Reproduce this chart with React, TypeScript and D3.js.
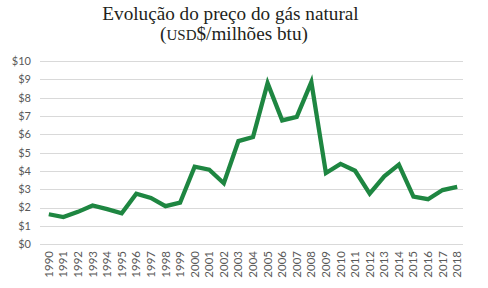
import React from "react";
import * as d3 from "d3";

const years = [
  "1990","1991","1992","1993","1994","1995","1996","1997","1998","1999",
  "2000","2001","2002","2003","2004","2005","2006","2007","2008","2009",
  "2010","2011","2012","2013","2014","2015","2016","2017","2018",
];
const prices = [
  1.64, 1.49, 1.77, 2.12, 1.92, 1.69, 2.76, 2.53, 2.08, 2.27,
  4.23, 4.07, 3.33, 5.63, 5.85, 8.79, 6.76, 6.95, 8.85, 3.89,
  4.39, 4.01, 2.76, 3.71, 4.35, 2.60, 2.46, 2.96, 3.13,
];
const yTicks = [0, 1, 2, 3, 4, 5, 6, 7, 8, 9, 10];
const titleLine1 = "Evolução do preço do gás natural";

const W = 488;
const H = 288;

export default function App() {
  const x = d3.scalePoint<string>().domain(years).range([41.5, 464.5]).padding(0.5);
  const y = d3.scaleLinear().domain([0, 10]).range([244.3, 61]);
  const line = d3
    .line<number>()
    .x((_, i) => x(years[i]) as number)
    .y((d) => y(d));

  return (
    <svg
      width={W}
      height={H}
      style={{ position: "absolute", left: 0, top: 0, display: "block", background: "#fff" }}
    >
      <text
        x={230.5}
        y={20}
        textAnchor="middle"
        fontFamily="'Liberation Serif', serif"
        fontSize={19.2}
        fill="#231f20"
      >
        {titleLine1}
      </text>
      <text
        x={234}
        y={39.5}
        textAnchor="middle"
        fontFamily="'Liberation Serif', serif"
        fontSize={19.2}
        fill="#231f20"
      >
        (<tspan fontSize={15}>USD</tspan>$/milhões btu)
      </text>
      {yTicks.map((t) => (
        <g key={t}>
          <line x1={40} x2={463} y1={Math.round(y(t)) + 0.5} y2={Math.round(y(t)) + 0.5} stroke="#d9d9d9" strokeWidth={1} />
          <text
            x={31}
            y={y(t)}
            dy="0.35em"
            textAnchor="end"
            fontFamily="Lato, sans-serif"
            fontSize={11}
            fill="#595959"
          >
            {"$" + t}
          </text>
        </g>
      ))}
      {years.map((yr) => (
        <text
          key={yr}
          transform={`translate(${x(yr)},${251}) rotate(-90)`}
          dy="0.35em"
          textAnchor="end"
          fontFamily="Lato, sans-serif"
          fontSize={11.5}
          fill="#595959"
        >
          {yr}
        </text>
      ))}
      <path
        d={line(prices) || ""}
        fill="none"
        stroke="#1e8641"
        strokeWidth={4.3}
        strokeLinejoin="miter"
        strokeLinecap="butt"
      />
    </svg>
  );
}
